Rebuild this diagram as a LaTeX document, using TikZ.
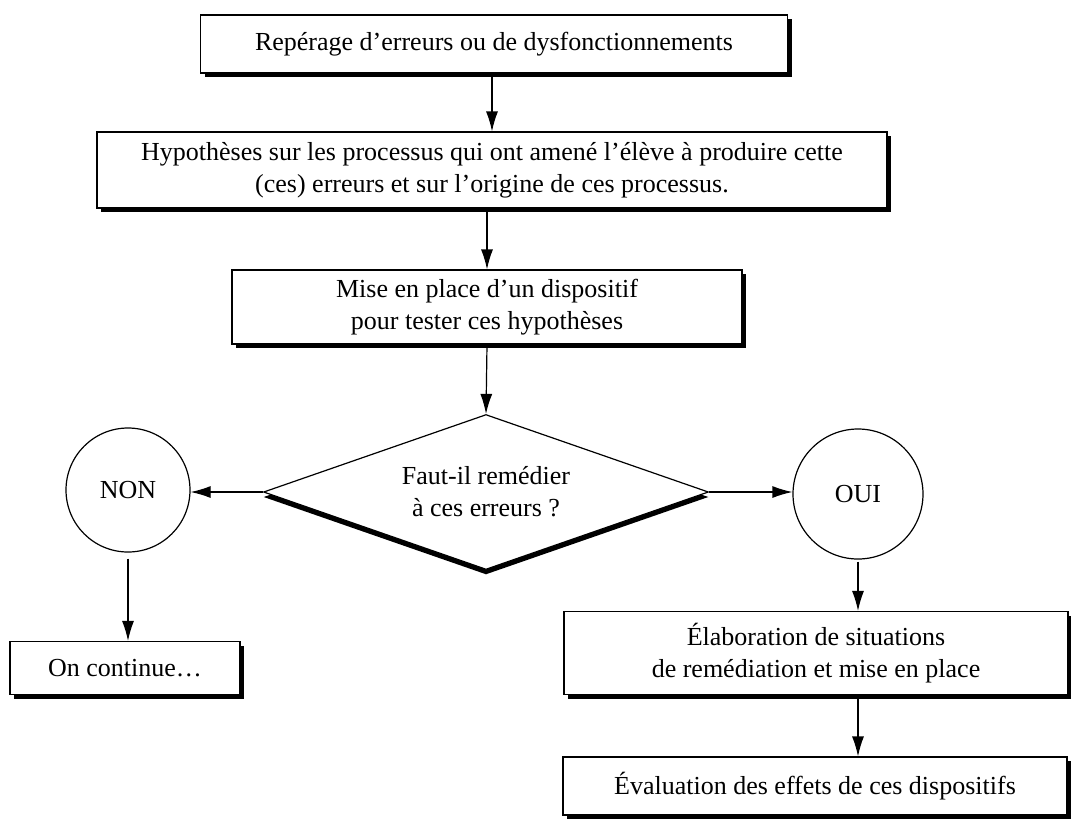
\documentclass[tikz,border=0pt]{standalone}
\usepackage{fontspec}
\setmainfont{Liberation Serif}
\usetikzlibrary{shapes.geometric, arrows.meta, shadows}

\begin{document}
\begin{tikzpicture}[x=0.5pt, y=-0.5pt,
            every node/.style={font=\fontsize{13}{16}\selectfont},
            etape/.style={rectangle, draw, fill=white, line width=0.6pt, align=center, inner sep=0pt,
                drop shadow={fill=black, opacity=1, shadow xshift=2.2pt, shadow yshift=-2.2pt}},
            choix/.style={diamond, draw, fill=white, line width=0.6pt, align=center, inner sep=0pt, aspect=2.9,
                drop shadow={fill=black, opacity=1, shadow xshift=0pt, shadow yshift=-2.5pt}},
            reponse/.style={circle, draw, fill=white, line width=0.6pt, inner sep=0pt},
            fleche/.style={-{Latex[length=10pt, width=6pt]}, line width=0.6pt}]

        \useasboundingbox (0,0) rectangle (1071,821);

        \node [etape, minimum width=293.5pt, minimum height=29pt] (reperage) at (494,44) {Repérage d'erreurs ou de dysfonctionnements};
        \node [etape, minimum width=395pt, minimum height=38pt] (hypotheses) at (492,170) {Hypothèses sur les processus qui ont amené l'élève à produire cette\\(ces) erreurs et sur l'origine de ces processus.};
        \node [etape, minimum width=255pt, minimum height=37pt] (dispositif) at (487,307) {Mise en place d'un dispositif\\pour tester ces hypothèses};
        \node [choix, minimum width=222.5pt, minimum height=77.5pt] (question) at (486,492) {Faut-il remédier\\à ces erreurs ?};
        \node [reponse, minimum size=62pt] (non) at (128,490) {NON};
        \node [reponse, minimum size=65pt] (oui) at (858,494) {OUI};
        \node [etape, minimum width=115pt, minimum height=26.5pt] (continue) at (125,668) {On continue…};
        \node [etape, minimum width=252pt, minimum height=41.5pt] (elaboration) at (816,653) {Élaboration de situations\\de remédiation et mise en place};
        \node [etape, minimum width=252pt, minimum height=29pt] (evaluation) at (815,786) {Évaluation des effets de ces dispositifs};

        % colonne principale
        \draw[fleche] (hypotheses.north |- reperage.south) -- (hypotheses.north);
        \draw[fleche] (hypotheses.south -| dispositif.north) -- (dispositif.north);
        \draw[fleche] (dispositif.south) -- (question.north);

        % NON / OUI
        \draw[fleche] (question.west) -- (question.west -| non.east);
        \draw[fleche] (question.east) -- (question.east -| oui.west);

        \draw[fleche, shorten <=3pt] (non.south) -- (non.south |- continue.north);
        \draw[fleche, shorten <=1pt] (oui.south) -- (oui.south |- elaboration.north);
        \draw[fleche] (elaboration.south -| oui.south) -- (evaluation.north -| oui.south);

    \end{tikzpicture}
\end{document}
